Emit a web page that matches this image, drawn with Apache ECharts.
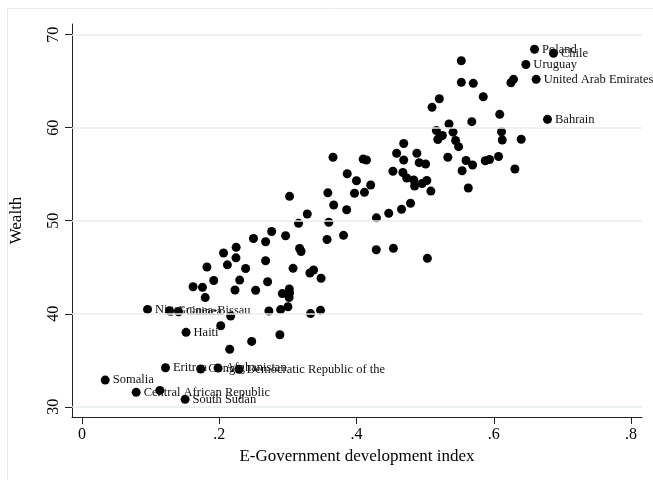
<!DOCTYPE html>
<html>
<head>
<meta charset="utf-8">
<script src="https://cdn.jsdelivr.net/npm/echarts@6/dist/echarts.min.js"></script>
<style>
html,body{margin:0;padding:0;background:#fff;}
#chart{width:653px;height:480px;}
</style>
</head>
<body>
<div id="chart"></div>
<script>
// Labelled countries
const labelNames = ['Somalia','Central African Republic','South Sudan','Eritrea','Congo','Afghanistan',
  'Democratic Republic of the','Haiti','Niger','Guinea-Bissau','Guinea',
  'Poland','Chile','Uruguay','United Arab Emirates','Bahrain'];
const labelEgov = [0.0339,0.0790,0.1503,0.1217,0.1731,0.1983,0.2288,0.1517,0.0956,0.1276,0.1407,
  0.6594,0.6870,0.6468,0.6618,0.6783];
const labelWealth = [32.87,31.55,30.80,34.19,34.05,34.16,34.02,38.00,40.47,40.32,40.22,
  68.43,68.00,66.80,65.20,60.90];

// Other countries: E-Government development index (x)
const egov = [
0.1135,0.2167,0.2022,0.2153,0.2473,0.2884,0.2724,0.2895,0.3001,
0.3331,0.3476,0.1796,0.1619,0.1756,0.2230,0.2531,0.2919,0.3021,0.3025,
0.3018,0.1920,0.2298,0.2705,0.3484,0.1821,0.2119,0.2385,0.3076,0.3321,
0.3375,0.2676,0.2244,0.2063,0.2247,0.3171,0.3193,0.2676,0.2499,0.2764,
0.2967,0.3571,0.3811,0.3156,0.3597,0.3283,0.3668,0.3857,0.3025,0.3583,
0.3971,0.4116,0.3865,0.4000,0.4207,0.3658,0.4097,0.4145,0.4288,0.4538,
0.5033,0.4291,0.4470,0.4657,0.4788,0.4531,0.4676,0.4732,0.4834,0.4847,
0.4956,0.5025,0.5084,0.4585,0.4688,0.4880,0.4688,0.4913,0.5007,0.5185,
0.5215,0.5251,0.5444,0.5488,0.5164,0.5407,0.5348,0.5680,0.5101,0.5207,
0.5527,0.5702,0.5847,0.5527,0.6087,0.6113,0.6124,0.6400,0.5331,0.5596,
0.5692,0.5876,0.5939,0.6070,0.6308,0.5539,0.5629,0.6250,0.6288
];
// Other countries: Wealth (y)
const wealth = [
31.76,39.75,38.71,36.18,37.03,37.74,40.29,40.45,40.75,
40.02,40.37,41.74,42.90,42.84,42.55,42.53,42.17,42.66,42.23,
41.74,43.57,43.62,43.44,43.82,45.02,45.26,44.86,44.88,44.38,
44.70,45.70,46.01,46.53,47.14,47.01,46.69,47.74,48.09,48.84,
48.38,47.98,48.43,49.72,49.84,50.72,51.69,51.18,52.62,53.00,
52.95,53.05,55.05,54.30,53.84,56.82,56.63,56.53,46.88,47.03,
45.96,50.31,50.80,51.23,51.88,55.32,55.18,54.59,54.38,53.73,
54.00,54.32,53.19,57.25,58.30,57.26,56.53,56.24,56.10,58.73,
59.05,59.16,58.62,57.96,59.70,59.52,60.40,60.65,62.19,63.11,
64.88,64.77,63.33,67.20,61.44,59.57,58.68,58.76,56.82,56.47,
55.99,56.45,56.58,56.90,55.56,55.37,53.52,64.84,65.20
];
const xTicks = [0, 0.2, 0.4, 0.6, 0.8];
const xTickLabels = ['0', '.2', '.4', '.6', '.8'];
const yTicks = [30, 40, 50, 60, 70];
const yTickLabels = ['30', '40', '50', '60', '70'];

const FONT = 'Liberation Serif';
const plainPts = egov.map((x, i) => [x, wealth[i]]);
const namedPts = labelEgov.map((x, i) => ({ value: [x, labelWealth[i]], name: labelNames[i] }));

const chart = echarts.init(document.getElementById('chart'), null, { renderer: 'canvas' });
chart.setOption({
  animation: false,
  backgroundColor: '#ffffff',
  graphic: [{
    type: 'rect', silent: true, z: -10,
    shape: { x: 7.5, y: 8.5, width: 800, height: 600 },
    style: { fill: 'none', stroke: '#e4ecef', lineWidth: 1 }
  }],
  grid: { left: 71, right: 11, top: 24, bottom: 63, containLabel: false },
  xAxis: {
    type: 'value', min: -0.0145, max: 0.816,
    name: 'E-Government development index', nameLocation: 'middle', nameGap: 26,
    nameTextStyle: { fontFamily: FONT, fontSize: 17, color: '#000' },
    axisLine: { show: true, onZero: false, lineStyle: { color: '#222', width: 1 } },
    axisTick: { show: true, length: 7, customValues: xTicks, lineStyle: { color: '#222' } },
    axisLabel: {
      customValues: xTicks, margin: 10,
      fontFamily: FONT, fontSize: 16, color: '#000',
      formatter: v => { const i = xTicks.findIndex(t => Math.abs(t - v) < 1e-6); return i >= 0 ? xTickLabels[i] : ''; }
    },
    splitLine: { show: false }
  },
  yAxis: {
    type: 'value', min: 28.9, max: 71.15,
    name: 'Wealth', nameLocation: 'middle', nameGap: 47, nameRotate: 90,
    nameTextStyle: { fontFamily: FONT, fontSize: 17, color: '#000' },
    axisLine: { show: true, onZero: false, lineStyle: { color: '#222', width: 1 } },
    axisTick: { show: true, length: 7, customValues: yTicks, lineStyle: { color: '#222' } },
    axisLabel: {
      customValues: yTicks, margin: 10, rotate: 90,
      fontFamily: FONT, fontSize: 16, color: '#000',
      formatter: v => { const i = yTicks.findIndex(t => Math.abs(t - v) < 1e-6); return i >= 0 ? yTickLabels[i] : ''; }
    },
    splitLine: { show: false }
  },
  series: [{
    type: 'scatter',
    data: plainPts,
    symbol: 'circle', symbolSize: 9,
    itemStyle: { color: '#000', opacity: 1 },
    markLine: {
      silent: true, symbol: 'none', animation: false,
      label: { show: false },
      lineStyle: { color: '#e6eef1', width: 1.5, type: 'solid' },
      data: yTicks.map(v => ({ yAxis: v }))
    },
    z: 3
  }, {
    type: 'scatter',
    data: namedPts,
    symbol: 'circle', symbolSize: 9,
    itemStyle: { color: '#000', opacity: 1 },
    label: {
      show: true, position: 'right', distance: 3,
      fontFamily: FONT, fontSize: 12.5, color: '#111',
      formatter: p => p.name
    },
    labelLayout: { hideOverlap: false },
    z: 4
  }]
});
</script>
</body>
</html>
